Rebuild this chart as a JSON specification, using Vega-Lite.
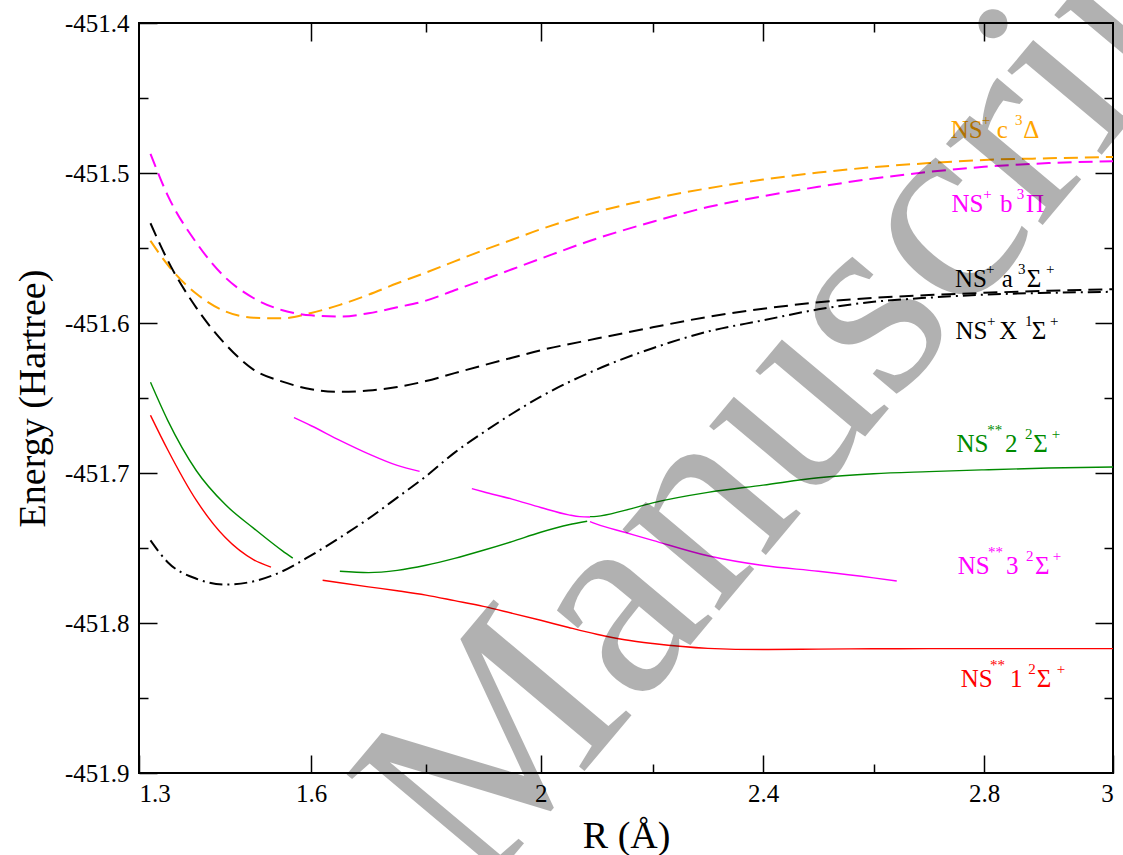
{
  "$schema": "https://vega.github.io/schema/vega-lite/v6.json",
  "width": 974,
  "height": 750,
  "autosize": {"type": "none"},
  "padding": {"left": 139, "top": 23, "right": 10, "bottom": 82},
  "background": "white",
  "config": {
    "view": {"stroke": "black", "strokeWidth": 2},
    "font": "Liberation Serif",
    "axis": {
      "grid": false, "domain": false, "tickColor": "black", "tickWidth": 1.5,
      "labelFont": "Liberation Serif", "labelFontSize": 25, "labelColor": "black",
      "titleFont": "Liberation Serif", "titleFontSize": 38, "titleFontWeight": "normal", "titleColor": "black"
    },
    "line": {"interpolate": "monotone"}
  },
  "datasets": {
    "curves": [
      {"state": "NS+ c3Δ", "seg": "c", "r": 1.32, "e": -451.5452},
      {"state": "NS+ c3Δ", "seg": "c", "r": 1.35, "e": -451.5612},
      {"state": "NS+ c3Δ", "seg": "c", "r": 1.40, "e": -451.5805},
      {"state": "NS+ c3Δ", "seg": "c", "r": 1.45, "e": -451.5922},
      {"state": "NS+ c3Δ", "seg": "c", "r": 1.50, "e": -451.5965},
      {"state": "NS+ c3Δ", "seg": "c", "r": 1.55, "e": -451.5969},
      {"state": "NS+ c3Δ", "seg": "c", "r": 1.60, "e": -451.5933},
      {"state": "NS+ c3Δ", "seg": "c", "r": 1.65, "e": -451.5879},
      {"state": "NS+ c3Δ", "seg": "c", "r": 1.70, "e": -451.5811},
      {"state": "NS+ c3Δ", "seg": "c", "r": 1.75, "e": -451.5735},
      {"state": "NS+ c3Δ", "seg": "c", "r": 1.80, "e": -451.5664},
      {"state": "NS+ c3Δ", "seg": "c", "r": 1.85, "e": -451.5589},
      {"state": "NS+ c3Δ", "seg": "c", "r": 1.90, "e": -451.5515},
      {"state": "NS+ c3Δ", "seg": "c", "r": 1.95, "e": -451.5445},
      {"state": "NS+ c3Δ", "seg": "c", "r": 2.00, "e": -451.5375},
      {"state": "NS+ c3Δ", "seg": "c", "r": 2.10, "e": -451.5260},
      {"state": "NS+ c3Δ", "seg": "c", "r": 2.20, "e": -451.5171},
      {"state": "NS+ c3Δ", "seg": "c", "r": 2.30, "e": -451.5102},
      {"state": "NS+ c3Δ", "seg": "c", "r": 2.40, "e": -451.5044},
      {"state": "NS+ c3Δ", "seg": "c", "r": 2.50, "e": -451.4997},
      {"state": "NS+ c3Δ", "seg": "c", "r": 2.60, "e": -451.4961},
      {"state": "NS+ c3Δ", "seg": "c", "r": 2.70, "e": -451.4934},
      {"state": "NS+ c3Δ", "seg": "c", "r": 2.80, "e": -451.4913},
      {"state": "NS+ c3Δ", "seg": "c", "r": 2.90, "e": -451.4902},
      {"state": "NS+ c3Δ", "seg": "c", "r": 3.00, "e": -451.4893},

      {"state": "NS+ b3Π", "seg": "b", "r": 1.32, "e": -451.4872},
      {"state": "NS+ b3Π", "seg": "b", "r": 1.35, "e": -451.5149},
      {"state": "NS+ b3Π", "seg": "b", "r": 1.40, "e": -451.5465},
      {"state": "NS+ b3Π", "seg": "b", "r": 1.45, "e": -451.5695},
      {"state": "NS+ b3Π", "seg": "b", "r": 1.50, "e": -451.5835},
      {"state": "NS+ b3Π", "seg": "b", "r": 1.55, "e": -451.5915},
      {"state": "NS+ b3Π", "seg": "b", "r": 1.60, "e": -451.5949},
      {"state": "NS+ b3Π", "seg": "b", "r": 1.65, "e": -451.5957},
      {"state": "NS+ b3Π", "seg": "b", "r": 1.70, "e": -451.5935},
      {"state": "NS+ b3Π", "seg": "b", "r": 1.75, "e": -451.5895},
      {"state": "NS+ b3Π", "seg": "b", "r": 1.80, "e": -451.5851},
      {"state": "NS+ b3Π", "seg": "b", "r": 1.85, "e": -451.5782},
      {"state": "NS+ b3Π", "seg": "b", "r": 1.90, "e": -451.5713},
      {"state": "NS+ b3Π", "seg": "b", "r": 1.95, "e": -451.5642},
      {"state": "NS+ b3Π", "seg": "b", "r": 2.00, "e": -451.5571},
      {"state": "NS+ b3Π", "seg": "b", "r": 2.10, "e": -451.5437},
      {"state": "NS+ b3Π", "seg": "b", "r": 2.20, "e": -451.5325},
      {"state": "NS+ b3Π", "seg": "b", "r": 2.30, "e": -451.5227},
      {"state": "NS+ b3Π", "seg": "b", "r": 2.40, "e": -451.5155},
      {"state": "NS+ b3Π", "seg": "b", "r": 2.50, "e": -451.5092},
      {"state": "NS+ b3Π", "seg": "b", "r": 2.60, "e": -451.5037},
      {"state": "NS+ b3Π", "seg": "b", "r": 2.70, "e": -451.4993},
      {"state": "NS+ b3Π", "seg": "b", "r": 2.80, "e": -451.4959},
      {"state": "NS+ b3Π", "seg": "b", "r": 2.90, "e": -451.4934},
      {"state": "NS+ b3Π", "seg": "b", "r": 3.00, "e": -451.4922},

      {"state": "NS+ a3Σ+", "seg": "a", "r": 1.32, "e": -451.5335},
      {"state": "NS+ a3Σ+", "seg": "a", "r": 1.35, "e": -451.5582},
      {"state": "NS+ a3Σ+", "seg": "a", "r": 1.40, "e": -451.5899},
      {"state": "NS+ a3Σ+", "seg": "a", "r": 1.45, "e": -451.6139},
      {"state": "NS+ a3Σ+", "seg": "a", "r": 1.50, "e": -451.6312},
      {"state": "NS+ a3Σ+", "seg": "a", "r": 1.55, "e": -451.6391},
      {"state": "NS+ a3Σ+", "seg": "a", "r": 1.60, "e": -451.6442},
      {"state": "NS+ a3Σ+", "seg": "a", "r": 1.65, "e": -451.6459},
      {"state": "NS+ a3Σ+", "seg": "a", "r": 1.70, "e": -451.6450},
      {"state": "NS+ a3Σ+", "seg": "a", "r": 1.75, "e": -451.6427},
      {"state": "NS+ a3Σ+", "seg": "a", "r": 1.80, "e": -451.6387},
      {"state": "NS+ a3Σ+", "seg": "a", "r": 1.85, "e": -451.6334},
      {"state": "NS+ a3Σ+", "seg": "a", "r": 1.90, "e": -451.6282},
      {"state": "NS+ a3Σ+", "seg": "a", "r": 1.95, "e": -451.6232},
      {"state": "NS+ a3Σ+", "seg": "a", "r": 2.00, "e": -451.6182},
      {"state": "NS+ a3Σ+", "seg": "a", "r": 2.10, "e": -451.6104},
      {"state": "NS+ a3Σ+", "seg": "a", "r": 2.20, "e": -451.6029},
      {"state": "NS+ a3Σ+", "seg": "a", "r": 2.30, "e": -451.5959},
      {"state": "NS+ a3Σ+", "seg": "a", "r": 2.40, "e": -451.5905},
      {"state": "NS+ a3Σ+", "seg": "a", "r": 2.50, "e": -451.5862},
      {"state": "NS+ a3Σ+", "seg": "a", "r": 2.60, "e": -451.5832},
      {"state": "NS+ a3Σ+", "seg": "a", "r": 2.70, "e": -451.5814},
      {"state": "NS+ a3Σ+", "seg": "a", "r": 2.80, "e": -451.5799},
      {"state": "NS+ a3Σ+", "seg": "a", "r": 2.90, "e": -451.5785},
      {"state": "NS+ a3Σ+", "seg": "a", "r": 3.00, "e": -451.5775},

      {"state": "NS+ X1Σ+", "seg": "x", "r": 1.32, "e": -451.7449},
      {"state": "NS+ X1Σ+", "seg": "x", "r": 1.35, "e": -451.7595},
      {"state": "NS+ X1Σ+", "seg": "x", "r": 1.40, "e": -451.7705},
      {"state": "NS+ X1Σ+", "seg": "x", "r": 1.45, "e": -451.7744},
      {"state": "NS+ X1Σ+", "seg": "x", "r": 1.50, "e": -451.7722},
      {"state": "NS+ X1Σ+", "seg": "x", "r": 1.55, "e": -451.7655},
      {"state": "NS+ X1Σ+", "seg": "x", "r": 1.60, "e": -451.7549},
      {"state": "NS+ X1Σ+", "seg": "x", "r": 1.65, "e": -451.7431},
      {"state": "NS+ X1Σ+", "seg": "x", "r": 1.70, "e": -451.7304},
      {"state": "NS+ X1Σ+", "seg": "x", "r": 1.75, "e": -451.7164},
      {"state": "NS+ X1Σ+", "seg": "x", "r": 1.80, "e": -451.7022},
      {"state": "NS+ X1Σ+", "seg": "x", "r": 1.85, "e": -451.6864},
      {"state": "NS+ X1Σ+", "seg": "x", "r": 1.90, "e": -451.6730},
      {"state": "NS+ X1Σ+", "seg": "x", "r": 1.95, "e": -451.6605},
      {"state": "NS+ X1Σ+", "seg": "x", "r": 2.00, "e": -451.6491},
      {"state": "NS+ X1Σ+", "seg": "x", "r": 2.10, "e": -451.6310},
      {"state": "NS+ X1Σ+", "seg": "x", "r": 2.20, "e": -451.6168},
      {"state": "NS+ X1Σ+", "seg": "x", "r": 2.30, "e": -451.6057},
      {"state": "NS+ X1Σ+", "seg": "x", "r": 2.40, "e": -451.5982},
      {"state": "NS+ X1Σ+", "seg": "x", "r": 2.50, "e": -451.5909},
      {"state": "NS+ X1Σ+", "seg": "x", "r": 2.60, "e": -451.5859},
      {"state": "NS+ X1Σ+", "seg": "x", "r": 2.70, "e": -451.5831},
      {"state": "NS+ X1Σ+", "seg": "x", "r": 2.80, "e": -451.5811},
      {"state": "NS+ X1Σ+", "seg": "x", "r": 2.90, "e": -451.5799},
      {"state": "NS+ X1Σ+", "seg": "x", "r": 3.00, "e": -451.5792},

      {"state": "NS** 1 2Σ+", "seg": "r1", "r": 1.32, "e": -451.6615},
      {"state": "NS** 1 2Σ+", "seg": "r1", "r": 1.35, "e": -451.6845},
      {"state": "NS** 1 2Σ+", "seg": "r1", "r": 1.40, "e": -451.7183},
      {"state": "NS** 1 2Σ+", "seg": "r1", "r": 1.45, "e": -451.7429},
      {"state": "NS** 1 2Σ+", "seg": "r1", "r": 1.50, "e": -451.7579},
      {"state": "NS** 1 2Σ+", "seg": "r1", "r": 1.53, "e": -451.7627},
      {"state": "NS** 1 2Σ+", "seg": "r2", "r": 1.62, "e": -451.7715},
      {"state": "NS** 1 2Σ+", "seg": "r2", "r": 1.65, "e": -451.7732},
      {"state": "NS** 1 2Σ+", "seg": "r2", "r": 1.70, "e": -451.7759},
      {"state": "NS** 1 2Σ+", "seg": "r2", "r": 1.75, "e": -451.7785},
      {"state": "NS** 1 2Σ+", "seg": "r2", "r": 1.80, "e": -451.7814},
      {"state": "NS** 1 2Σ+", "seg": "r2", "r": 1.85, "e": -451.7851},
      {"state": "NS** 1 2Σ+", "seg": "r2", "r": 1.90, "e": -451.7889},
      {"state": "NS** 1 2Σ+", "seg": "r2", "r": 1.95, "e": -451.7935},
      {"state": "NS** 1 2Σ+", "seg": "r2", "r": 2.00, "e": -451.7982},
      {"state": "NS** 1 2Σ+", "seg": "r2", "r": 2.05, "e": -451.8030},
      {"state": "NS** 1 2Σ+", "seg": "r2", "r": 2.10, "e": -451.8075},
      {"state": "NS** 1 2Σ+", "seg": "r2", "r": 2.15, "e": -451.8112},
      {"state": "NS** 1 2Σ+", "seg": "r2", "r": 2.20, "e": -451.8137},
      {"state": "NS** 1 2Σ+", "seg": "r2", "r": 2.30, "e": -451.8169},
      {"state": "NS** 1 2Σ+", "seg": "r2", "r": 2.40, "e": -451.8177},
      {"state": "NS** 1 2Σ+", "seg": "r2", "r": 2.50, "e": -451.8174},
      {"state": "NS** 1 2Σ+", "seg": "r2", "r": 2.60, "e": -451.8172},
      {"state": "NS** 1 2Σ+", "seg": "r2", "r": 2.70, "e": -451.8171},
      {"state": "NS** 1 2Σ+", "seg": "r2", "r": 2.80, "e": -451.8171},
      {"state": "NS** 1 2Σ+", "seg": "r2", "r": 2.90, "e": -451.8171},
      {"state": "NS** 1 2Σ+", "seg": "r2", "r": 3.00, "e": -451.8171},

      {"state": "NS** 2 2Σ+", "seg": "g1", "r": 1.32, "e": -451.6395},
      {"state": "NS** 2 2Σ+", "seg": "g1", "r": 1.35, "e": -451.6649},
      {"state": "NS** 2 2Σ+", "seg": "g1", "r": 1.40, "e": -451.6985},
      {"state": "NS** 2 2Σ+", "seg": "g1", "r": 1.45, "e": -451.7209},
      {"state": "NS** 2 2Σ+", "seg": "g1", "r": 1.50, "e": -451.7369},
      {"state": "NS** 2 2Σ+", "seg": "g1", "r": 1.55, "e": -451.7519},
      {"state": "NS** 2 2Σ+", "seg": "g1", "r": 1.568, "e": -451.7567},
      {"state": "NS** 2 2Σ+", "seg": "g2", "r": 1.65, "e": -451.7655},
      {"state": "NS** 2 2Σ+", "seg": "g2", "r": 1.70, "e": -451.7664},
      {"state": "NS** 2 2Σ+", "seg": "g2", "r": 1.75, "e": -451.7649},
      {"state": "NS** 2 2Σ+", "seg": "g2", "r": 1.80, "e": -451.7615},
      {"state": "NS** 2 2Σ+", "seg": "g2", "r": 1.85, "e": -451.7569},
      {"state": "NS** 2 2Σ+", "seg": "g2", "r": 1.90, "e": -451.7515},
      {"state": "NS** 2 2Σ+", "seg": "g2", "r": 1.95, "e": -451.7457},
      {"state": "NS** 2 2Σ+", "seg": "g2", "r": 2.00, "e": -451.7395},
      {"state": "NS** 2 2Σ+", "seg": "g2", "r": 2.05, "e": -451.7345},
      {"state": "NS** 2 2Σ+", "seg": "g2", "r": 2.083, "e": -451.7322},
      {"state": "NS** 2 2Σ+", "seg": "g3", "r": 2.088, "e": -451.7291},
      {"state": "NS** 2 2Σ+", "seg": "g3", "r": 2.10, "e": -451.7289},
      {"state": "NS** 2 2Σ+", "seg": "g3", "r": 2.15, "e": -451.7249},
      {"state": "NS** 2 2Σ+", "seg": "g3", "r": 2.20, "e": -451.7199},
      {"state": "NS** 2 2Σ+", "seg": "g3", "r": 2.30, "e": -451.7129},
      {"state": "NS** 2 2Σ+", "seg": "g3", "r": 2.40, "e": -451.7081},
      {"state": "NS** 2 2Σ+", "seg": "g3", "r": 2.50, "e": -451.7032},
      {"state": "NS** 2 2Σ+", "seg": "g3", "r": 2.60, "e": -451.7005},
      {"state": "NS** 2 2Σ+", "seg": "g3", "r": 2.70, "e": -451.6991},
      {"state": "NS** 2 2Σ+", "seg": "g3", "r": 2.80, "e": -451.6979},
      {"state": "NS** 2 2Σ+", "seg": "g3", "r": 2.90, "e": -451.6967},
      {"state": "NS** 2 2Σ+", "seg": "g3", "r": 3.00, "e": -451.6960},

      {"state": "NS** 3 2Σ+", "seg": "m1", "r": 1.57, "e": -451.6631},
      {"state": "NS** 3 2Σ+", "seg": "m1", "r": 1.60, "e": -451.6685},
      {"state": "NS** 3 2Σ+", "seg": "m1", "r": 1.65, "e": -451.6782},
      {"state": "NS** 3 2Σ+", "seg": "m1", "r": 1.70, "e": -451.6872},
      {"state": "NS** 3 2Σ+", "seg": "m1", "r": 1.75, "e": -451.6949},
      {"state": "NS** 3 2Σ+", "seg": "m1", "r": 1.789, "e": -451.6989},
      {"state": "NS** 3 2Σ+", "seg": "m2", "r": 1.88, "e": -451.7104},
      {"state": "NS** 3 2Σ+", "seg": "m2", "r": 1.90, "e": -451.7125},
      {"state": "NS** 3 2Σ+", "seg": "m2", "r": 1.95, "e": -451.7174},
      {"state": "NS** 3 2Σ+", "seg": "m2", "r": 2.00, "e": -451.7230},
      {"state": "NS** 3 2Σ+", "seg": "m2", "r": 2.05, "e": -451.7279},
      {"state": "NS** 3 2Σ+", "seg": "m2", "r": 2.07, "e": -451.7291},
      {"state": "NS** 3 2Σ+", "seg": "m2", "r": 2.088, "e": -451.7293},
      {"state": "NS** 3 2Σ+", "seg": "m3", "r": 2.088, "e": -451.7324},
      {"state": "NS** 3 2Σ+", "seg": "m3", "r": 2.10, "e": -451.7341},
      {"state": "NS** 3 2Σ+", "seg": "m3", "r": 2.15, "e": -451.7395},
      {"state": "NS** 3 2Σ+", "seg": "m3", "r": 2.20, "e": -451.7449},
      {"state": "NS** 3 2Σ+", "seg": "m3", "r": 2.30, "e": -451.7552},
      {"state": "NS** 3 2Σ+", "seg": "m3", "r": 2.40, "e": -451.7617},
      {"state": "NS** 3 2Σ+", "seg": "m3", "r": 2.50, "e": -451.7655},
      {"state": "NS** 3 2Σ+", "seg": "m3", "r": 2.60, "e": -451.7699},
      {"state": "NS** 3 2Σ+", "seg": "m3", "r": 2.642, "e": -451.7720}
    ],
    "labels": [
      {"state": "NS+ c3Δ", "t": "NS", "k": "main", "r": 2.7397, "e": -451.4764},
      {"state": "NS+ c3Δ", "t": "+", "k": "sup", "r": 2.7960, "e": -451.4677},
      {"state": "NS+ c3Δ", "t": "c", "k": "main", "r": 2.8196, "e": -451.4764},
      {"state": "NS+ c3Δ", "t": "3", "k": "sup", "r": 2.8480, "e": -451.4677},
      {"state": "NS+ c3Δ", "t": "Δ", "k": "main", "r": 2.8608, "e": -451.4764},

      {"state": "NS+ b3Π", "t": "NS", "k": "main", "r": 2.7412, "e": -451.5260},
      {"state": "NS+ b3Π", "t": "+", "k": "sup", "r": 2.7985, "e": -451.5173},
      {"state": "NS+ b3Π", "t": "b", "k": "main", "r": 2.8247, "e": -451.5260},
      {"state": "NS+ b3Π", "t": "3", "k": "sup", "r": 2.8506, "e": -451.5173},
      {"state": "NS+ b3Π", "t": "Π", "k": "main", "r": 2.8650, "e": -451.5260},

      {"state": "NS+ a3Σ+", "t": "NS", "k": "main", "r": 2.7474, "e": -451.5760},
      {"state": "NS+ a3Σ+", "t": "+", "k": "sup", "r": 2.8030, "e": -451.5673},
      {"state": "NS+ a3Σ+", "t": "a", "k": "main", "r": 2.8274, "e": -451.5760},
      {"state": "NS+ a3Σ+", "t": "3", "k": "sup", "r": 2.8526, "e": -451.5673},
      {"state": "NS+ a3Σ+", "t": "Σ", "k": "main", "r": 2.8660, "e": -451.5760},
      {"state": "NS+ a3Σ+", "t": "+", "k": "sup", "r": 2.8959, "e": -451.5673},

      {"state": "NS+ X1Σ+", "t": "NS", "k": "main", "r": 2.7485, "e": -451.6104},
      {"state": "NS+ X1Σ+", "t": "+", "k": "sup", "r": 2.8045, "e": -451.6017},
      {"state": "NS+ X1Σ+", "t": "X", "k": "main", "r": 2.8237, "e": -451.6104},
      {"state": "NS+ X1Σ+", "t": "1", "k": "sup", "r": 2.8634, "e": -451.6017},
      {"state": "NS+ X1Σ+", "t": "Σ", "k": "main", "r": 2.8738, "e": -451.6104},
      {"state": "NS+ X1Σ+", "t": "+", "k": "sup", "r": 2.9021, "e": -451.6017},

      {"state": "NS** 2 2Σ+", "t": "NS", "k": "main", "r": 2.7500, "e": -451.6860},
      {"state": "NS** 2 2Σ+", "t": "**", "k": "sup", "r": 2.8051, "e": -451.6747},
      {"state": "NS** 2 2Σ+", "t": "2", "k": "main", "r": 2.8325, "e": -451.6860},
      {"state": "NS** 2 2Σ+", "t": "2", "k": "sup", "r": 2.8634, "e": -451.6773},
      {"state": "NS** 2 2Σ+", "t": "Σ", "k": "main", "r": 2.8763, "e": -451.6860},
      {"state": "NS** 2 2Σ+", "t": "+", "k": "sup", "r": 2.9047, "e": -451.6773},

      {"state": "NS** 3 2Σ+", "t": "NS", "k": "main", "r": 2.7525, "e": -451.7671},
      {"state": "NS** 3 2Σ+", "t": "**", "k": "sup", "r": 2.8062, "e": -451.7557},
      {"state": "NS** 3 2Σ+", "t": "3", "k": "main", "r": 2.8340, "e": -451.7671},
      {"state": "NS** 3 2Σ+", "t": "2", "k": "sup", "r": 2.8650, "e": -451.7584},
      {"state": "NS** 3 2Σ+", "t": "Σ", "k": "main", "r": 2.8789, "e": -451.7671},
      {"state": "NS** 3 2Σ+", "t": "+", "k": "sup", "r": 2.9063, "e": -451.7584},

      {"state": "NS** 1 2Σ+", "t": "NS", "k": "main", "r": 2.7578, "e": -451.8427},
      {"state": "NS** 1 2Σ+", "t": "**", "k": "sup", "r": 2.8093, "e": -451.8313},
      {"state": "NS** 1 2Σ+", "t": "1", "k": "main", "r": 2.8402, "e": -451.8427},
      {"state": "NS** 1 2Σ+", "t": "2", "k": "sup", "r": 2.8685, "e": -451.8340},
      {"state": "NS** 1 2Σ+", "t": "Σ", "k": "main", "r": 2.8815, "e": -451.8427},
      {"state": "NS** 1 2Σ+", "t": "+", "k": "sup", "r": 2.9125, "e": -451.8340}
    ],
    "stamp": [
      {"t": "Manuscript", "r": 1.8933, "e": -451.9822}
    ]
  },
  "layer": [
    {
      "data": {"name": "curves"},
      "transform": [{"filter": {"field": "state", "oneOf": ["NS+ c3Δ", "NS+ b3Π", "NS+ a3Σ+", "NS+ X1Σ+"]}}],
      "mark": {"type": "line", "strokeWidth": 2, "clip": true},
      "encoding": {
        "x": {
          "field": "r", "type": "quantitative",
          "scale": {"domain": [1.3, 2, 2.2, 2.8, 3], "range": [0, 401.7, 513.7, 845, 974.3], "nice": false, "zero": false},
          "axis": {"orient": "bottom", "values": [1.3, 1.6, 2, 2.4, 2.8, 3], "labelExpr": "format(datum.value, '~g')", "labelFont": "Liberation Serif", "tickSize": -18, "labelPadding": 26, "title": "R (Å)", "titlePadding": 11}
        },
        "y": {
          "field": "e", "type": "quantitative",
          "scale": {"domain": [-451.9, -451.4], "nice": false, "zero": false},
          "axis": {"orient": "left", "values": [-451.9, -451.8, -451.7, -451.6, -451.5, -451.4], "labelExpr": "'-' + format(-datum.value, '.1f')", "labelFont": "Liberation Serif", "tickSize": -18, "labelPadding": 28, "title": "Energy (Hartree)", "titlePadding": 12}
        },
        "color": {
          "field": "state", "type": "nominal", "legend": null,
          "scale": {"domain": ["NS+ c3Δ", "NS+ b3Π", "NS+ a3Σ+", "NS+ X1Σ+", "NS** 1 2Σ+", "NS** 2 2Σ+", "NS** 3 2Σ+"], "range": ["#ffa500", "#ff00ff", "#000000", "#000000", "#ff0000", "#008b00", "#ff00ff"]}
        },
        "strokeDash": {
          "field": "state", "type": "nominal", "legend": null,
          "scale": {"domain": ["NS+ c3Δ", "NS+ b3Π", "NS+ a3Σ+", "NS+ X1Σ+"], "range": [[14, 7], [14, 7], [14, 7], [13, 5, 2, 5]]}
        },
        "detail": {"field": "seg"}
      }
    },
    {
      "data": {"name": "curves"},
      "transform": [{"filter": {"field": "state", "oneOf": ["NS** 1 2Σ+", "NS** 2 2Σ+", "NS** 3 2Σ+"]}}],
      "mark": {"type": "line", "strokeWidth": 1.4, "clip": true},
      "encoding": {
        "x": {"field": "r", "type": "quantitative", "axis": {"orient": "bottom", "values": [1.8, 2.2, 2.6], "labels": false, "tickSize": -9, "title": null}},
        "y": {"field": "e", "type": "quantitative", "axis": {"orient": "left", "values": [-451.85, -451.75, -451.65, -451.55, -451.45], "labels": false, "tickSize": -9, "title": null}},
        "color": {"field": "state", "type": "nominal", "legend": null},
        "detail": {"field": "seg"}
      }
    },
    {
      "data": {"name": "labels"},
      "mark": {"type": "text", "align": "left", "baseline": "alphabetic", "font": "Liberation Serif"},
      "encoding": {
        "x": {"field": "r", "type": "quantitative", "axis": {"orient": "top", "values": [1.6, 2, 2.4, 2.8], "labels": false, "tickSize": -18, "title": null}},
        "y": {"field": "e", "type": "quantitative", "axis": {"orient": "right", "values": [-451.8, -451.7, -451.6, -451.5], "labels": false, "tickSize": -18, "title": null}},
        "text": {"field": "t"},
        "color": {"field": "state", "type": "nominal", "legend": null},
        "size": {"field": "k", "type": "ordinal", "legend": null, "scale": {"domain": ["main", "sup"], "range": [25, 15]}}
      }
    },
    {
      "data": {"name": "stamp"},
      "mark": {"type": "text", "align": "left", "baseline": "alphabetic", "font": "Liberation Serif", "fontSize": 275, "angle": -50, "fill": "black", "opacity": 0.3},
      "encoding": {
        "x": {"field": "r", "type": "quantitative", "axis": {"orient": "top", "values": [1.8, 2.2, 2.6], "labels": false, "tickSize": -9, "title": null}},
        "y": {"field": "e", "type": "quantitative", "axis": {"orient": "right", "values": [-451.85, -451.75, -451.65, -451.55, -451.45], "labels": false, "tickSize": -9, "title": null}},
        "text": {"field": "t"}
      }
    }
  ],
  "resolve": {"axis": {"x": "independent", "y": "independent"}}
}
